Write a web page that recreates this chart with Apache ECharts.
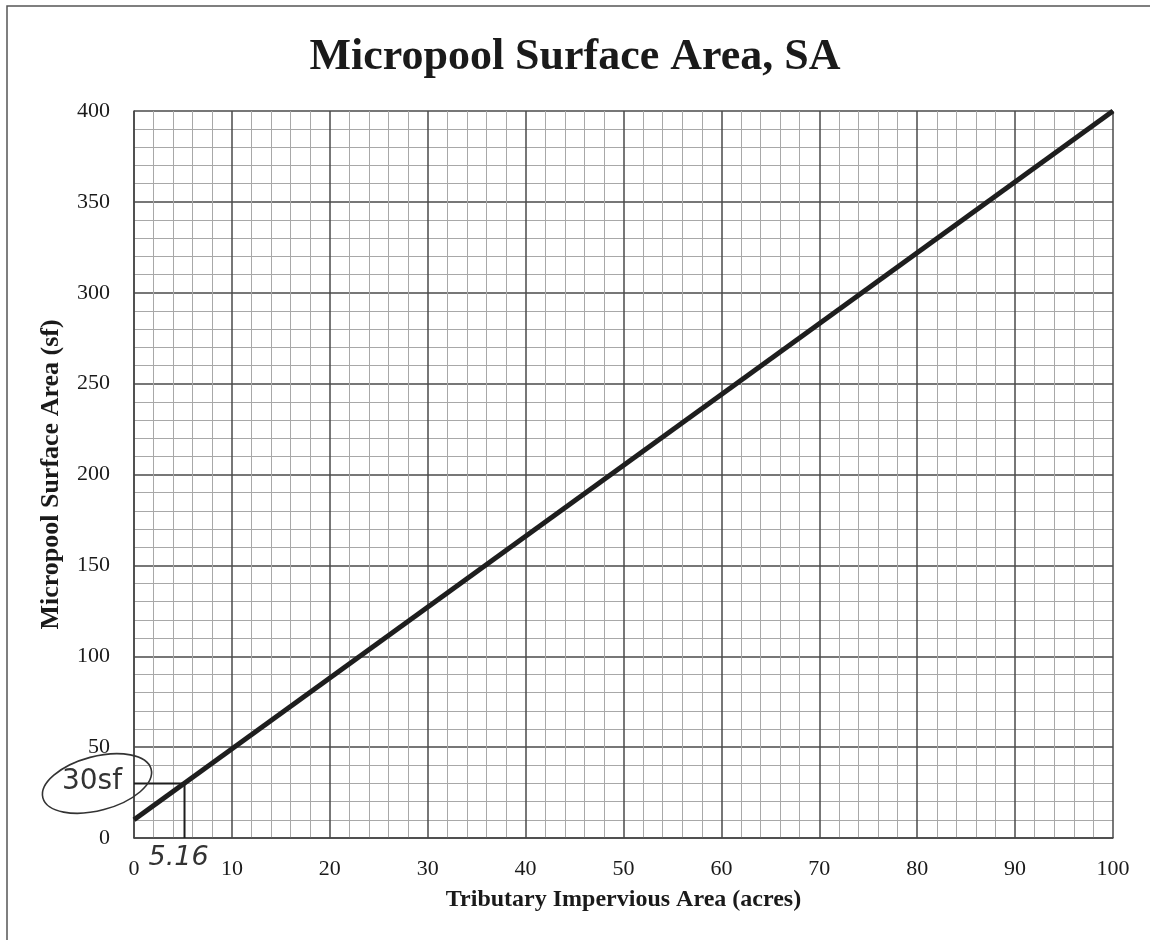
<!DOCTYPE html>
<html>
<head>
<meta charset="utf-8">
<script src="https://cdn.jsdelivr.net/npm/echarts@6/dist/echarts.min.js"></script>
<style>
  html, body { margin: 0; padding: 0; background: #fff; }
  #chart { width: 1150px; height: 940px; }
</style>
</head>
<body>
<div id="chart"></div>
<script>
// Design curve: tributary impervious area (acres) vs micropool surface area (sf)
const areaAcres = [0, 100];
const surfaceSf = [10, 400];

// Worked reading marked on the chart
const readArea = 5.16;
const readSurface = 30;
const readAreaText = '5.16';
const readSurfaceText = '30sf';

const titleText = 'Micropool Surface Area, SA';
const xName = 'Tributary Impervious Area (acres)';
const yName = 'Micropool Surface Area (sf)';

const serif = '"Liberation Serif", "DejaVu Serif", serif';
const hand = '"DejaVu Sans", sans-serif';

const chart = echarts.init(document.getElementById('chart'), null, { renderer: 'canvas' });

const curve = areaAcres.map((a, i) => [a, surfaceSf[i]]);
const reading = [[0, readSurface], [readArea, readSurface], [readArea, 0]];

chart.setOption({
  backgroundColor: '#ffffff',
  animation: false,
  title: {
    text: titleText,
    left: 'center',
    top: 31,
    textStyle: { fontFamily: serif, fontWeight: 'bold', fontSize: 44, color: '#1a1a1a' }
  },
  grid: { left: 134, right: 37, top: 111, bottom: 102 },
  xAxis: {
    type: 'value',
    min: 0, max: 100, interval: 10,
    name: xName,
    nameLocation: 'middle',
    nameGap: 50,
    nameTextStyle: { fontFamily: serif, fontWeight: 'bold', fontSize: 24, color: '#1a1a1a' },
    axisLine: { show: true, lineStyle: { color: '#444', width: 1.5 } },
    axisTick: { show: false },
    axisLabel: { fontFamily: serif, fontSize: 22, color: '#1a1a1a', margin: 20 },
    splitLine: { show: true, lineStyle: { color: '#4a4a4a', width: 1.5 } },
    minorTick: { show: false, splitNumber: 5 },
    minorSplitLine: { show: true, lineStyle: { color: '#a8a8a8', width: 1 } }
  },
  yAxis: {
    type: 'value',
    min: 0, max: 400, interval: 50,
    name: yName,
    nameLocation: 'middle',
    nameGap: 70,
    nameTextStyle: { fontFamily: serif, fontWeight: 'bold', fontSize: 26, color: '#1a1a1a' },
    axisLine: { show: true, lineStyle: { color: '#444', width: 1.5 } },
    axisTick: { show: false },
    axisLabel: { fontFamily: serif, fontSize: 22, color: '#1a1a1a', margin: 24 },
    splitLine: { show: true, lineStyle: { color: '#4a4a4a', width: 1.5 } },
    minorTick: { show: false, splitNumber: 5 },
    minorSplitLine: { show: true, lineStyle: { color: '#a8a8a8', width: 1 } }
  },
  series: [
    {
      name: 'SA',
      type: 'line',
      data: curve,
      symbol: 'none',
      lineStyle: { color: '#1e1e1e', width: 5 },
      z: 5
    },
    {
      name: 'reading',
      type: 'line',
      data: reading,
      symbol: 'none',
      lineStyle: { color: '#1e1e1e', width: 2 },
      z: 4
    }
  ]
});

// Handwritten notes of the reading, positioned from the axis scales
const pSurface = chart.convertToPixel({ gridIndex: 0 }, [0, readSurface]);
const pArea = chart.convertToPixel({ gridIndex: 0 }, [readArea, 0]);

chart.setOption({
  graphic: [
    {
      type: 'rect',
      shape: { x: 7, y: 6, width: 1200, height: 1000 },
      style: { fill: 'none', stroke: '#555', lineWidth: 1.5 },
      silent: true
    },
    {
      type: 'ellipse',
      x: pSurface[0] - 37, y: pSurface[1],
      rotation: 0.26,
      shape: { cx: 0, cy: 0, rx: 56, ry: 27 },
      style: { fill: 'none', stroke: '#333', lineWidth: 1.6 },
      z: 10
    },
    {
      type: 'text',
      x: pSurface[0] - 42, y: pSurface[1] - 2,
      style: {
        text: readSurfaceText, fontFamily: hand, fontSize: 28, fill: '#333',
        align: 'center', verticalAlign: 'middle'
      },
      z: 10
    },
    {
      type: 'text',
      x: pArea[0] - 6, y: pArea[1] + 20,
      style: {
        text: readAreaText, fontFamily: hand, fontSize: 27, fontStyle: 'italic', fill: '#333',
        align: 'center', verticalAlign: 'middle'
      },
      z: 10
    }
  ]
});
</script>
</body>
</html>
